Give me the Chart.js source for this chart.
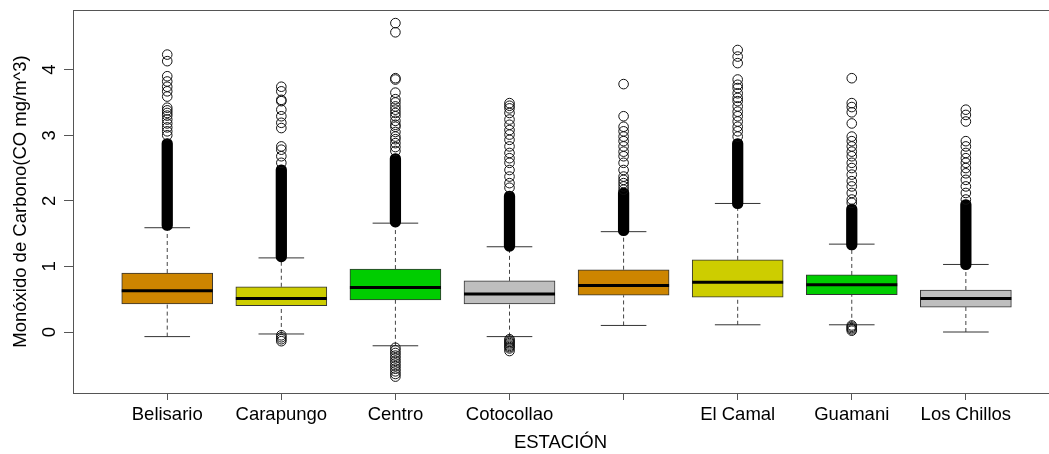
<!DOCTYPE html>
<html>
<head>
<meta charset="utf-8">
<script src="https://cdn.jsdelivr.net/npm/chart.js@4"></script>
<style>
  html, body { margin: 0; padding: 0; background: #fff; }
  canvas { display: block; }
</style>
</head>
<body>
<canvas id="chart" width="1049" height="454"></canvas>
<script>
// Stations (the 5th label is blank in the original)
const stations = ['Belisario', 'Carapungo', 'Centro', 'Cotocollao', '', 'El Camal', 'Guamani', 'Los Chillos'];
const boxColors = ['#CD8500', '#CDCD00', '#00CD00', '#BEBEBE', '#CD8500', '#CDCD00', '#00CD00', '#BEBEBE'];

// Box statistics
const lowerWhisker = [-0.07, -0.03, -0.21, -0.07, 0.10, 0.11, 0.11, 0.00];
const q1 = [0.43, 0.40, 0.49, 0.43, 0.56, 0.53, 0.57, 0.38];
const medians = [0.63, 0.51, 0.68, 0.58, 0.71, 0.76, 0.72, 0.51];
const q3 = [0.90, 0.69, 0.96, 0.78, 0.95, 1.10, 0.87, 0.64];
const upperWhisker = [1.59, 1.13, 1.66, 1.30, 1.53, 1.96, 1.34, 1.03];

// Runs where outliers overlap into a solid black column
const denseStation = [0, 1, 2, 3, 4, 5, 6, 7];
const denseLow = [1.55, 1.07, 1.60, 1.23, 1.47, 1.88, 1.25, 0.95];
const denseHigh = [2.95, 2.55, 2.72, 2.15, 2.20, 2.95, 1.95, 2.02];

// Individual outlier circles
const outliers = [
  [3.00, 3.06, 3.12, 3.18, 3.24, 3.30, 3.34, 3.38, 3.42, 3.59, 3.67, 3.74, 3.82, 3.90, 4.13, 4.23],
  [-0.05, -0.08, -0.11, -0.14, 2.58, 2.68, 2.78, 2.83, 3.11, 3.19, 3.29, 3.39, 3.52, 3.54, 3.67, 3.74],
  [-0.24, -0.28, -0.32, -0.36, -0.40, -0.44, -0.48, -0.52, -0.56, -0.60, -0.64, -0.68,
   2.76, 2.82, 2.88, 2.94, 2.98, 3.05, 3.13, 3.16, 3.22, 3.29, 3.34, 3.39, 3.44, 3.50, 3.55, 3.65, 3.85, 3.87, 4.57, 4.71],
  [-0.11, -0.13, -0.15, -0.17, -0.19, -0.21, -0.23, -0.25, -0.29,
   2.20, 2.27, 2.37, 2.47, 2.58, 2.65, 2.73, 2.83, 2.93, 3.01, 3.08, 3.16, 3.24, 3.34, 3.41, 3.45, 3.49],
  [2.17, 2.22, 2.27, 2.32, 2.37, 2.47, 2.58, 2.68, 2.75, 2.83, 2.91, 2.98, 3.06, 3.13, 3.29, 3.78],
  [2.98, 3.06, 3.13, 3.21, 3.29, 3.36, 3.44, 3.52, 3.57, 3.64, 3.72, 3.77, 3.85, 4.10, 4.20, 4.30],
  [0.02, 0.04, 0.06, 0.08, 0.10,
   1.97, 2.02, 2.12, 2.22, 2.30, 2.40, 2.50, 2.58, 2.68, 2.75, 2.83, 2.91, 2.98, 3.18, 3.35, 3.43, 3.49, 3.87],
  [2.02, 2.12, 2.22, 2.32, 2.42, 2.50, 2.58, 2.65, 2.73, 2.83, 2.91, 3.21, 3.31, 3.39]
];

const yTicks = [0, 1, 2, 3, 4];

const FONT = "'Liberation Sans', Arial, sans-serif";
const AXIS = '#555';

// R style vertical tick labels on the y axis
const yTickLabels = {
  id: 'yTickLabels',
  afterDraw(chart) {
    const { ctx, scales: { y } } = chart;
    ctx.save();
    ctx.font = '18.5px ' + FONT;
    ctx.fillStyle = '#000';
    ctx.textAlign = 'center';
    ctx.textBaseline = 'middle';
    yTicks.forEach(v => {
      ctx.save();
      ctx.translate(y.left + 49.5, y.getPixelForValue(v));
      ctx.rotate(-Math.PI / 2);
      ctx.fillText(String(v), 0, 0);
      ctx.restore();
    });
    ctx.restore();
  }
};

// Whisker segments, broken with nulls
const whiskerData = [];
stations.forEach((s, i) => {
  whiskerData.push({ x: i + 1, y: q3[i] }, { x: i + 1, y: upperWhisker[i] }, { x: i + 1, y: null });
  whiskerData.push({ x: i + 1, y: lowerWhisker[i] }, { x: i + 1, y: q1[i] }, { x: i + 1, y: null });
});

new Chart(document.getElementById('chart'), {
  type: 'scatter',
  data: {
    datasets: [
      {
        type: 'scatter',
        data: outliers.flatMap((vals, i) => vals.map(v => ({ x: i + 1, y: v }))),
        pointStyle: 'circle',
        pointRadius: 4.8,
        pointBorderWidth: 1,
        pointBorderColor: '#111',
        pointBackgroundColor: 'rgba(0,0,0,0)',
        order: 0
      },
      {
        type: 'scatter',
        data: stations.map((s, i) => ({ x: i + 1, y: medians[i] })),
        pointStyle: 'line',
        pointRadius: 45.5,
        pointBorderWidth: 3,
        pointBorderColor: '#000',
        order: 1
      },
      {
        type: 'bar',
        data: stations.map((s, i) => ({ x: i + 1, y: [q1[i], q3[i]] })),
        backgroundColor: boxColors,
        borderColor: '#333',
        borderWidth: 1,
        borderSkipped: false,
        barThickness: 91,
        grouped: false,
        order: 2
      },
      {
        type: 'bar',
        data: denseStation.map((s, k) => ({ x: s + 1, y: [denseLow[k], denseHigh[k]] })),
        backgroundColor: '#000',
        borderWidth: 0,
        borderSkipped: false,
        borderRadius: 5.3,
        barThickness: 10.6,
        grouped: false,
        order: 3
      },
      {
        type: 'scatter',
        data: stations.flatMap((s, i) => [{ x: i + 1, y: upperWhisker[i] }, { x: i + 1, y: lowerWhisker[i] }]),
        pointStyle: 'line',
        pointRadius: 22.8,
        pointBorderWidth: 1,
        pointBorderColor: '#333',
        order: 4
      },
      {
        type: 'line',
        data: whiskerData,
        borderColor: '#444',
        borderWidth: 1,
        borderDash: [4, 3],
        pointRadius: 0,
        spanGaps: false,
        fill: false,
        order: 5
      }
    ]
  },
  options: {
    responsive: false,
    animation: false,
    events: [],
    layout: { autoPadding: false, padding: { left: 0, right: 1, top: 0, bottom: 0 } },
    plugins: { legend: { display: false }, tooltip: { enabled: false } },
    scales: {
      x: {
        type: 'linear',
        min: 0.174,
        max: 8.72,
        offset: false,
        afterBuildTicks: s => { s.ticks = stations.map((_, i) => ({ value: i + 1 })); },
        afterFit: s => { s.height = 61; s.paddingLeft = 0; s.paddingRight = 0; },
        grid: { drawOnChartArea: false, drawTicks: true, tickLength: 7, color: AXIS, offset: false },
        border: { display: true, color: AXIS, width: 1 },
        ticks: {
          autoSkip: false, maxRotation: 0, minRotation: 0, padding: 4, color: '#000',
          font: { family: FONT, size: 18.5 },
          callback: (v, i) => stations[i]
        },
        title: {
          display: true, text: 'ESTACIÓN', color: '#000',
          font: { family: FONT, size: 18.5 }, padding: { top: 0, bottom: 0 }
        }
      },
      xTop: {
        type: 'linear',
        position: 'top',
        min: 0.174,
        max: 8.72,
        afterFit: s => { s.height = 10; },
        grid: { display: false },
        ticks: { display: false },
        border: { display: true, color: AXIS, width: 1 }
      },
      y: {
        type: 'linear',
        min: -0.93,
        max: 4.91,
        afterBuildTicks: s => { s.ticks = yTicks.map(v => ({ value: v })); },
        afterFit: s => { s.width = 73; },
        grid: { drawOnChartArea: false, drawTicks: true, tickLength: 9, color: AXIS },
        border: { display: true, color: AXIS, width: 1 },
        ticks: { display: false },
        title: {
          display: true, text: 'Monóxido de Carbono(CO mg/m^3)', color: '#000',
          font: { family: FONT, size: 18.5 }, padding: { top: 10, bottom: 0 }
        }
      }
    }
  },
  plugins: [yTickLabels]
});
</script>
</body>
</html>
